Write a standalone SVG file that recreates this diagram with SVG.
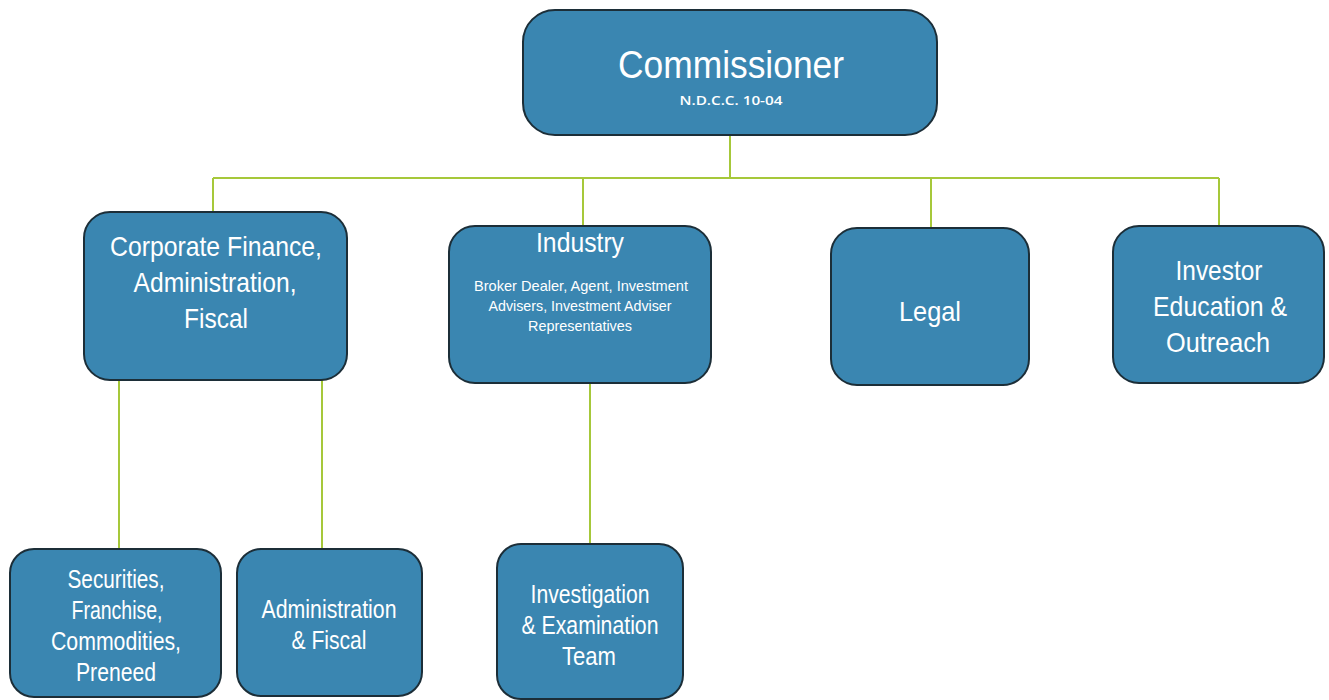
<svg xmlns="http://www.w3.org/2000/svg" width="1329" height="700" viewBox="0 0 1329 700">
<style>
.box{fill:#3a86b1;stroke:#1c2e38;stroke-width:2}
.t{font-family:"Liberation Sans",Arial,sans-serif;fill:#fff;text-anchor:middle}
.big{font-size:28px}
.mid{font-size:26px}
.sm{font-size:15px}
.ln{stroke:#a6c83a;stroke-width:2;fill:none}
</style>
<rect width="1329" height="700" fill="#fff"/>
<g id="connectors">
<path class="ln" d="M730 135V178M213 178H1219M213 178V212M583 178V226M931 178V228M1219 178V226"/>
<path class="ln" d="M119 380V549M322 380V549M590 383V544"/>
</g>
<g id="commissioner">
<rect class="box" x="523" y="10" width="414" height="125" rx="32"/>
<text class="t" x="731" y="78" font-size="39" textLength="226" lengthAdjust="spacingAndGlyphs">Commissioner</text>
<text class="t" x="731" y="105" style="font-family:'Open Sans','Liberation Sans',sans-serif;font-size:13px;font-weight:600" textLength="103" lengthAdjust="spacingAndGlyphs">N.D.C.C. 10-04</text>
</g>
<g id="corporate">
<rect class="box" x="84" y="212" width="263" height="168" rx="26"/>
<text class="t big" x="216" y="256" textLength="212" lengthAdjust="spacingAndGlyphs">Corporate Finance,</text>
<text class="t big" x="215" y="292" textLength="163" lengthAdjust="spacingAndGlyphs">Administration,</text>
<text class="t big" x="216" y="328" textLength="64" lengthAdjust="spacingAndGlyphs">Fiscal</text>
</g>
<g id="industry">
<rect class="box" x="449" y="226" width="262" height="157" rx="26"/>
<text class="t big" x="580" y="252" textLength="88" lengthAdjust="spacingAndGlyphs">Industry</text>
<text class="t sm" x="581" y="291" textLength="214" lengthAdjust="spacingAndGlyphs">Broker  Dealer, Agent, Investment</text>
<text class="t sm" x="580" y="311" textLength="183" lengthAdjust="spacingAndGlyphs">Advisers, Investment Adviser</text>
<text class="t sm" x="580" y="331" textLength="104" lengthAdjust="spacingAndGlyphs">Representatives</text>
</g>
<g id="legal">
<rect class="box" x="831" y="228" width="198" height="157" rx="26"/>
<text class="t big" x="930" y="321" textLength="62" lengthAdjust="spacingAndGlyphs">Legal</text>
</g>
<g id="investor">
<rect class="box" x="1113" y="226" width="211" height="157" rx="26"/>
<text class="t big" x="1219" y="280" textLength="87" lengthAdjust="spacingAndGlyphs">Investor</text>
<text class="t big" x="1220" y="316" textLength="134" lengthAdjust="spacingAndGlyphs">Education &amp;</text>
<text class="t big" x="1218" y="352" textLength="104" lengthAdjust="spacingAndGlyphs">Outreach</text>
</g>
<g id="securities">
<rect class="box" x="10" y="549" width="211" height="148" rx="24"/>
<text class="t mid" x="116" y="588" textLength="97" lengthAdjust="spacingAndGlyphs">Securities,</text>
<text class="t mid" x="117" y="619" textLength="91" lengthAdjust="spacingAndGlyphs">Franchise,</text>
<text class="t mid" x="116" y="650" textLength="130" lengthAdjust="spacingAndGlyphs">Commodities,</text>
<text class="t mid" x="116" y="681" textLength="80" lengthAdjust="spacingAndGlyphs">Preneed</text>
</g>
<g id="adminfiscal">
<rect class="box" x="237" y="549" width="185" height="147" rx="24"/>
<text class="t mid" x="329" y="618" textLength="135" lengthAdjust="spacingAndGlyphs">Administration</text>
<text class="t mid" x="329" y="649" textLength="75" lengthAdjust="spacingAndGlyphs">&amp; Fiscal</text>
</g>
<g id="investigation">
<rect class="box" x="497" y="544" width="186" height="155" rx="24"/>
<text class="t mid" x="590" y="603" textLength="119" lengthAdjust="spacingAndGlyphs">Investigation</text>
<text class="t mid" x="590" y="634" textLength="137" lengthAdjust="spacingAndGlyphs">&amp; Examination</text>
<text class="t mid" x="589" y="665" textLength="54" lengthAdjust="spacingAndGlyphs">Team</text>
</g>
</svg>
